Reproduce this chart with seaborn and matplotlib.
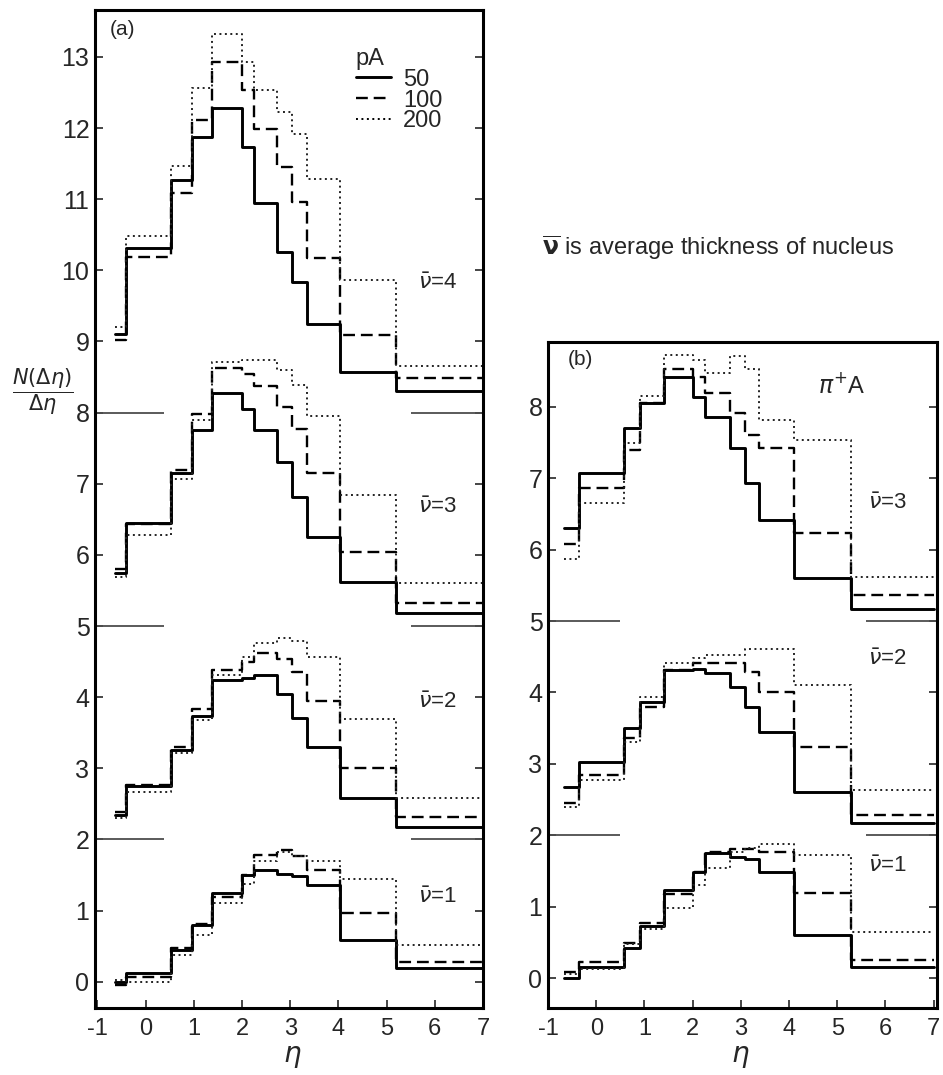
import numpy as np
import pandas as pd
import matplotlib
matplotlib.use("Agg")
import matplotlib.pyplot as plt
import seaborn as sns
from matplotlib.lines import Line2D

# ---------------- data ----------------
pA_labels = ["50", "100", "200"]

# bin edges in eta
edges_a = [-0.64, -0.40, 0.53, 0.97, 1.38, 1.99, 2.24, 2.72, 3.03, 3.35, 4.04, 5.20, 7.0]
edges_b = [-0.66, -0.36, 0.57, 0.91, 1.40, 2.00, 2.26, 2.77, 3.08, 3.38, 4.10, 5.29, 7.0]

# panel (a)  pA, groups shifted by 8 (nu=4), 5 (nu=3), 2 (nu=2), 0 (nu=1)
a_nu4_50  = [9.10, 10.31, 11.27, 11.88, 12.28, 11.74, 10.94, 10.26, 9.84, 9.25, 8.57, 8.30]
a_nu4_100 = [9.02, 10.19, 11.09, 12.12, 12.93, 12.53, 11.99, 11.45, 10.96, 10.17, 9.09, 8.48]
a_nu4_200 = [9.21, 10.48, 11.47, 12.56, 13.32, 12.93, 12.53, 12.22, 11.92, 11.29, 9.87, 8.65]

a_nu3_50  = [5.74, 6.45, 7.15, 7.76, 8.28, 8.05, 7.76, 7.31, 6.81, 6.25, 5.62, 5.18]
a_nu3_100 = [5.80, 6.43, 7.20, 7.98, 8.63, 8.54, 8.38, 8.08, 7.77, 7.15, 6.04, 5.33]
a_nu3_200 = [5.69, 6.28, 7.07, 7.89, 8.71, 8.74, 8.74, 8.60, 8.39, 7.95, 6.84, 5.60]

a_nu2_50  = [2.34, 2.75, 3.26, 3.73, 4.24, 4.27, 4.31, 4.05, 3.70, 3.30, 2.58, 2.18]
a_nu2_100 = [2.39, 2.76, 3.30, 3.83, 4.38, 4.50, 4.62, 4.53, 4.36, 3.94, 3.00, 2.32]
a_nu2_200 = [2.30, 2.67, 3.21, 3.68, 4.31, 4.57, 4.76, 4.83, 4.79, 4.56, 3.69, 2.58]

a_nu1_50  = [0.00, 0.12, 0.45, 0.80, 1.24, 1.50, 1.57, 1.51, 1.49, 1.36, 0.59, 0.19]
a_nu1_100 = [-0.05, 0.07, 0.47, 0.81, 1.19, 1.50, 1.78, 1.85, 1.76, 1.57, 0.96, 0.28]
a_nu1_200 = [0.03, 0.00, 0.38, 0.66, 1.10, 1.38, 1.69, 1.83, 1.76, 1.69, 1.45, 0.52]

# panel (b)  pi+A, groups shifted by 5 (nu=3), 2 (nu=2), 0 (nu=1)
b_nu3_50  = [6.31, 7.07, 7.70, 8.06, 8.42, 8.14, 7.86, 7.42, 6.94, 6.42, 5.61, 5.17]
b_nu3_100 = [6.08, 6.86, 7.40, 8.06, 8.53, 8.42, 8.19, 7.91, 7.61, 7.42, 6.24, 5.37]
b_nu3_200 = [5.87, 6.65, 7.49, 8.15, 8.73, 8.66, 8.48, 8.71, 8.53, 7.82, 7.54, 5.62]

b_nu2_50  = [2.68, 3.02, 3.50, 3.86, 4.32, 4.33, 4.28, 4.08, 3.80, 3.44, 2.61, 2.17]
b_nu2_100 = [2.45, 2.85, 3.36, 3.80, 4.32, 4.41, 4.41, 4.41, 4.29, 4.01, 3.24, 2.29]
b_nu2_200 = [2.40, 2.78, 3.31, 3.94, 4.42, 4.48, 4.53, 4.53, 4.61, 4.61, 4.11, 2.64]

b_nu1_50  = [0.00, 0.16, 0.42, 0.73, 1.23, 1.49, 1.75, 1.70, 1.67, 1.49, 0.60, 0.16]
b_nu1_100 = [0.08, 0.23, 0.49, 0.77, 1.18, 1.49, 1.77, 1.81, 1.81, 1.76, 1.19, 0.25]
b_nu1_200 = [0.05, 0.13, 0.48, 0.68, 0.98, 1.31, 1.54, 1.77, 1.82, 1.88, 1.73, 0.64]

# zero-level markers of the shifted groups
offsets_a = [8, 5, 2]
offsets_b = [5, 2]

yticks_a = list(range(0, 14))
yticks_b = list(range(0, 9))
xticks = list(range(-1, 8))

panel_a = {4: (a_nu4_50, a_nu4_100, a_nu4_200), 3: (a_nu3_50, a_nu3_100, a_nu3_200),
           2: (a_nu2_50, a_nu2_100, a_nu2_200), 1: (a_nu1_50, a_nu1_100, a_nu1_200)}
panel_b = {3: (b_nu3_50, b_nu3_100, b_nu3_200), 2: (b_nu2_50, b_nu2_100, b_nu2_200),
           1: (b_nu1_50, b_nu1_100, b_nu1_200)}


def frame(panel, edges):
    rows = []
    for nu, series in panel.items():
        for lab, vals in zip(pA_labels, series):
            ys = list(vals) + [vals[-1]]
            for x, y in zip(edges, ys):
                rows.append({"eta": x, "N": y, "pA": lab, "nu": nu})
    return pd.DataFrame(rows)


df_a = frame(panel_a, edges_a)
df_b = frame(panel_b, edges_b)

# ---------------- style ----------------
sns.set_style("white")
plt.rcParams["font.family"] = ["Liberation Sans", "DejaVu Sans"]
plt.rcParams["mathtext.fontset"] = "dejavusans"

palette = {"50": "black", "100": "black", "200": "#222222"}
dashes = {"50": "", "100": (5, 2.5), "200": (1, 1.8)}
sizes = {"50": 2.1, "100": 1.7, "200": 1.4}

W, H = 943, 1075
fig = plt.figure(figsize=(W / 100, H / 100), dpi=100)


def px_axes(x0, x1, y0, y1):
    return fig.add_axes([x0 / W, 1 - y1 / H, (x1 - x0) / W, (y1 - y0) / H])


ax_a = px_axes(95, 483, 10, 1008)
ax_b = px_axes(548, 937, 342, 1008)

for ax, df in ((ax_a, df_a), (ax_b, df_b)):
    sns.lineplot(data=df, x="eta", y="N", hue="pA", style="pA", size="pA",
                 units="nu", estimator=None, sort=False, drawstyle="steps-post",
                 palette=palette, dashes=dashes, sizes=sizes, legend=False, ax=ax)

ax_a.hlines(offsets_a, -1.05, 0.38, color="0.3", lw=1.3)
ax_a.hlines(offsets_a, 5.5, 7.0, color="0.3", lw=1.3)
ax_b.hlines(offsets_b, -1.0, 0.5, color="0.3", lw=1.3)
ax_b.hlines(offsets_b, 5.6, 7.1, color="0.3", lw=1.3)

ax_a.set_xlim(-1.05, 6.96)
ax_a.set_ylim(-0.37, 13.66)
ax_b.set_xlim(-1.0, 7.07)
ax_b.set_ylim(-0.42, 8.91)
ax_a.set_yticks(yticks_a)
ax_b.set_yticks(yticks_b)

for ax in (ax_a, ax_b):
    ax.set_xticks(xticks)
    ax.set_xticklabels([str(t) for t in xticks])
    ax.set_xlabel("")
    ax.set_ylabel("")
    for s in ax.spines.values():
        s.set_linewidth(2.2)
        s.set_color("black")
    ax.tick_params(axis="y", direction="in", length=6, width=1.2, left=True, right=True,
                   labelsize=18, pad=4)
    ax.tick_params(axis="x", direction="in", length=6, width=1.2, bottom=True, top=False,
                   labelsize=17, pad=7)

# eta axis titles
fig.text(292 / W, 1 - 1057 / H, r"$\eta$", ha="center", va="center", fontsize=20)
fig.text(740 / W, 1 - 1057 / H, r"$\eta$", ha="center", va="center", fontsize=20)

# panel texts
ax_a.text(-0.75, 13.38, "(a)", fontsize=15, ha="left", va="center")
ax_b.text(-0.58, 8.67, "(b)", fontsize=15, ha="left", va="center")
ax_b.text(4.6, 8.3, r"$\pi^{+}$A", fontsize=17, ha="left", va="center")

for nu, y in zip([4, 3, 2, 1], [9.82, 6.66, 3.92, 1.19]):
    ax_a.text(6.05, y, r"$\bar{\nu}$=%d" % nu, fontsize=16, ha="center", va="center")
for nu, y in zip([3, 2, 1], [6.65, 4.46, 1.56]):
    ax_b.text(6.05, y, r"$\bar{\nu}$=%d" % nu, fontsize=16, ha="center", va="center")

# legend
handles = [Line2D([], [], color="black", lw=sizes[l],
                  linestyle="-" if dashes[l] == "" else (0, dashes[l])) for l in pA_labels]
leg = ax_a.legend(handles, pA_labels, title="pA", loc="upper left",
                  bbox_to_anchor=(0.672, 0.962), frameon=False, fontsize=17,
                  title_fontsize=17, handlelength=1.5, handletextpad=0.5,
                  labelspacing=-0.05, borderpad=0, borderaxespad=0, alignment="left")

# y-axis label
fig.text(43 / W, 1 - 392 / H, r"$\dfrac{N(\Delta\eta)}{\Delta\eta}$", fontsize=15,
         ha="center", va="center")

# note
fig.text(542 / W, 1 - 248 / H, r"$\overline{\mathbf{\nu}}$ is average thickness of nucleus",
         fontsize=17, ha="left", va="center")

fig.savefig("out.png", dpi=100)
